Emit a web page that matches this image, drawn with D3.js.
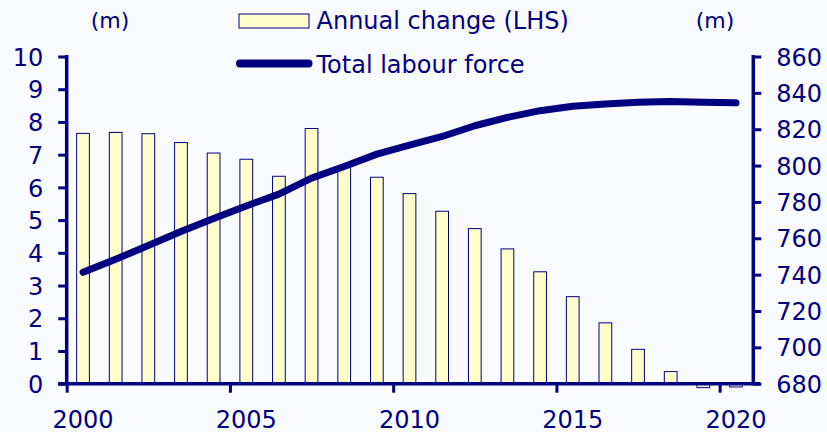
<!DOCTYPE html>
<html>
<head>
<meta charset="utf-8">
<script src="https://cdn.jsdelivr.net/npm/d3@7"></script>
<style>
  html, body { margin: 0; padding: 0; background: #fafbff; }
  svg { display: block; }
  text { font-family: "DejaVu Sans", Verdana, sans-serif; fill: #000080; }
</style>
</head>
<body>
<svg id="chart" width="827" height="432"></svg>
<script>
const years = d3.range(2000, 2021);
const annualChange = [7.65, 7.68, 7.64, 7.37, 7.05, 6.86, 6.34, 7.80, 6.66, 6.31, 5.81, 5.27, 4.74, 4.12, 3.42, 2.66, 1.86, 1.05, 0.37, -0.12, -0.10];
const labourForce = [741.3, 748.5, 756.0, 763.7, 770.9, 777.8, 784.3, 793.1, 799.5, 806.3, 811.2, 816.0, 821.9, 826.5, 830.2, 832.6, 833.9, 834.8, 835.2, 834.8, 834.5];
const leftTicks = [0, 1, 2, 3, 4, 5, 6, 7, 8, 9, 10];
const rightTicks = [680, 700, 720, 740, 760, 780, 800, 820, 840, 860];
const xLabelYears = [2000, 2005, 2010, 2015, 2020];
const seriesNames = ["Annual change (LHS)", "Total labour force"];
const unitLabel = "(m)";

const navy = "#000080";
const barFill = "#ffffcc";

const svg = d3.select("#chart");
const x0 = 66.7, x1 = 752.3, yTop = 56.5, yBot = 383.7;

const x = d3.scaleBand().domain(years).range([x0, x1]).paddingInner(0).paddingOuter(0);
const yL = d3.scaleLinear().domain([0, 10]).range([yBot, yTop]);
const yR = d3.scaleLinear().domain([680, 860]).range([yBot, yTop]);
const barW = x.bandwidth() * 0.39;

// bars
svg.append("g").selectAll("rect").data(years).join("rect")
  .attr("x", (d) => x(d) + x.bandwidth() / 2 - barW / 2)
  .attr("y", (d, i) => yL(Math.max(0, annualChange[i])))
  .attr("width", barW)
  .attr("height", (d, i) => Math.abs(yL(annualChange[i]) - yL(0)))
  .attr("fill", barFill)
  .attr("stroke", navy)
  .attr("stroke-width", 1);

// axes
const axisG = svg.append("g");
// left axis
const leftAxis = d3.axisLeft(yL).tickValues(leftTicks).tickSize(8.5).tickPadding(15).tickFormat(d3.format("d"));
const gL = axisG.append("g").attr("transform", `translate(${x0},0)`).call(leftAxis);
// right axis
const rightAxis = d3.axisRight(yR).tickValues(rightTicks).tickSize(8).tickPadding(15).tickFormat(d3.format("d"));
const gR = axisG.append("g").attr("transform", `translate(${x1 + 1},0)`).call(rightAxis);
// bottom axis: ticks at band starts every 5 years
const xTickScale = d3.scaleLinear().domain([2000, 2021]).range([x0, x1]);
const bottomAxis = d3.axisBottom(xTickScale).tickValues(xLabelYears).tickSize(9).tickFormat("");
const gB = axisG.append("g").attr("transform", `translate(0,${yBot})`).call(bottomAxis);

[gL, gR, gB].forEach(g => {
  g.select(".domain").remove();
  g.selectAll(".tick line").attr("stroke", navy).attr("stroke-width", 3);
  g.selectAll(".tick text").attr("font-size", 24).attr("fill", navy)
    .attr("font-family", "DejaVu Sans, Verdana, sans-serif");
});
gL.selectAll(".tick text").attr("dy", "0.36em");
gR.selectAll(".tick text").attr("dy", "0.36em");

// axis lines
axisG.append("line").attr("x1", x0).attr("x2", x0).attr("y1", yTop - 1.5).attr("y2", yBot + 1.5)
  .attr("stroke", navy).attr("stroke-width", 3.5);
axisG.append("line").attr("x1", x1 + 1).attr("x2", x1 + 1).attr("y1", yTop - 1.5).attr("y2", yBot + 1.5)
  .attr("stroke", navy).attr("stroke-width", 3.5);
axisG.append("line").attr("x1", x0 - 8.5).attr("x2", x1 + 8).attr("y1", yBot).attr("y2", yBot)
  .attr("stroke", navy).attr("stroke-width", 3.5);

// x labels centered on bars
svg.append("g").selectAll("text").data(xLabelYears).join("text")
  .attr("x", d => x(d) + x.bandwidth() / 2)
  .attr("y", 427.5)
  .attr("text-anchor", "middle")
  .attr("font-size", 24)
  .text(d => d);

// line
const line = d3.line()
  .x((d, i) => x(years[i]) + x.bandwidth() / 2)
  .y(d => yR(d));
svg.append("path").datum(labourForce)
  .attr("d", line)
  .attr("fill", "none")
  .attr("stroke", navy)
  .attr("stroke-width", 7)
  .attr("stroke-linecap", "round")
  .attr("stroke-linejoin", "round");

// unit labels
svg.append("text").attr("x", 110).attr("y", 28).attr("text-anchor", "middle").attr("font-size", 22).text(unitLabel);
svg.append("text").attr("x", 715).attr("y", 28).attr("text-anchor", "middle").attr("font-size", 22).text(unitLabel);

// legend
const lg = svg.append("g");
lg.append("rect").attr("x", 239).attr("y", 14).attr("width", 70).attr("height", 14)
  .attr("fill", barFill).attr("stroke", navy).attr("stroke-width", 1);
lg.append("text").attr("x", 316.5).attr("y", 29.3).attr("font-size", 24).text(seriesNames[0]);
lg.append("line").attr("x1", 240).attr("x2", 308.5).attr("y1", 63.5).attr("y2", 63.5)
  .attr("stroke", navy).attr("stroke-width", 8).attr("stroke-linecap", "round");
lg.append("text").attr("x", 316.5).attr("y", 73).attr("font-size", 24).text(seriesNames[1]);
</script>
</body>
</html>
